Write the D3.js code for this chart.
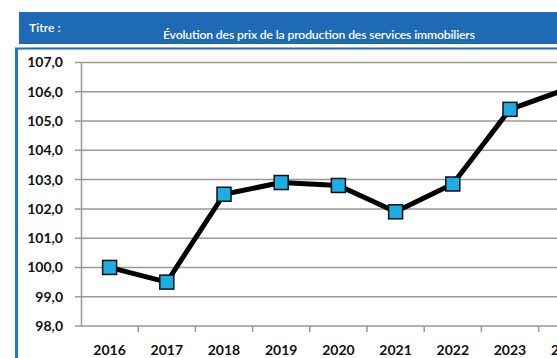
<!DOCTYPE html>
<html>
<head>
<meta charset="utf-8">
<script src="https://cdn.jsdelivr.net/npm/d3@7"></script>
<style>
  html, body { margin: 0; padding: 0; background: #fff; }
  svg { display: block; }
  text { font-family: Lato, "Open Sans", "Liberation Sans", sans-serif; }
</style>
</head>
<body>
<svg id="chart" width="557" height="358"></svg>
<script>
// Indice des prix de la production des services immobiliers
const years = ["2016", "2017", "2018", "2019", "2020", "2021", "2022", "2023", "2024"];
const indexValues = [100.0, 99.5, 102.5, 102.9, 102.8, 101.9, 102.85, 105.4, 106.1];
const yTicks = [98, 99, 100, 101, 102, 103, 104, 105, 106, 107];
const titleLabel = "Titre :";
const titleText = "Évolution des prix de la production des services immobiliers";

const svg = d3.select("#chart");
const blue = "#1F6AB4";

// Title band
svg.append("rect").attr("x", 19).attr("y", 12).attr("width", 557 - 19).attr("height", 32).attr("fill", blue);
svg.append("text").attr("x", 29).attr("y", 32).attr("fill", "#fff")
  .attr("font-size", 12.2).attr("font-weight", 600).text(titleLabel);
svg.append("text").attr("x", 163).attr("y", 39).attr("fill", "#fff")
  .attr("font-size", 12.2).attr("font-weight", 600).attr("textLength", 312).text(titleText);

// Frame around the plot area
svg.append("line").attr("x1", 15).attr("x2", 557).attr("y1", 48.5).attr("y2", 48.5)
  .attr("stroke", blue).attr("stroke-width", 2);
svg.append("line").attr("x1", 16.5).attr("x2", 16.5).attr("y1", 48).attr("y2", 358)
  .attr("stroke", "#1F78C8").attr("stroke-width", 3);

// Scales
const x = d3.scaleBand().domain(years).range([81, 81 + 57.2 * years.length]);
const y = d3.scaleLinear().domain([98, 107]).range([326, 62.5]);

// Horizontal grid lines with left tick stubs
const grid = svg.append("g");
grid.selectAll("line").data(yTicks).join("line")
  .attr("x1", 75).attr("x2", 557)
  .attr("y1", d => y(d)).attr("y2", d => y(d))
  .attr("stroke", "#999").attr("stroke-width", 1.5);

// Y axis
const yAxis = svg.append("g").attr("transform", "translate(81,0)")
  .call(d3.axisLeft(y).tickValues(yTicks).tickSize(0).tickPadding(18)
    .tickFormat(d => d3.format(".1f")(d).replace(".", ",")));
yAxis.select(".domain").attr("stroke", "#999").attr("stroke-width", 1.5);
yAxis.selectAll("text").attr("font-size", 14).attr("font-weight", 700).attr("fill", "#111")
  .attr("font-family", "Lato, 'Open Sans', sans-serif");

// X axis (tick marks between categories)
const xAxis = svg.append("g").attr("transform", `translate(0,${y(98)})`);
xAxis.selectAll("line.tick").data(years).join("line")
  .attr("class", "tick")
  .attr("x1", d => x(d) + x.bandwidth()).attr("x2", d => x(d) + x.bandwidth())
  .attr("y1", 0).attr("y2", 6)
  .attr("stroke", "#999").attr("stroke-width", 1.5);
xAxis.selectAll("text").data(years).join("text")
  .attr("x", d => x(d) + x.bandwidth() / 2).attr("y", 29)
  .attr("text-anchor", "middle").attr("font-size", 14).attr("font-weight", 700).attr("fill", "#111")
  .text(d => d);

// Series line
const line = d3.line().x((d, i) => x(years[i]) + x.bandwidth() / 2).y(d => y(d));
svg.append("path").datum(indexValues)
  .attr("d", line).attr("fill", "none")
  .attr("stroke", "#000").attr("stroke-width", 5).attr("stroke-linejoin", "round");

// Square markers
const ms = 14;
svg.append("g").selectAll("rect").data(indexValues).join("rect")
  .attr("x", (d, i) => x(years[i]) + x.bandwidth() / 2 - ms / 2)
  .attr("y", d => y(d) - ms / 2)
  .attr("width", ms).attr("height", ms)
  .attr("fill", "#1CADE4").attr("stroke", "#111").attr("stroke-width", 1.5);
</script>
</body>
</html>
